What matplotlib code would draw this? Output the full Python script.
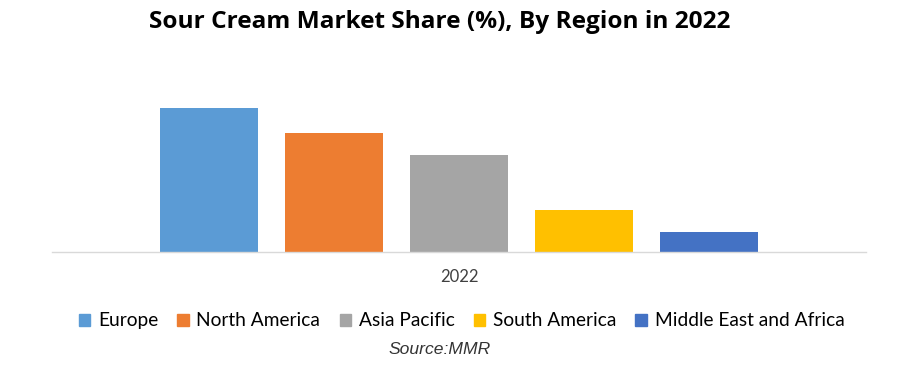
import matplotlib.pyplot as plt
from matplotlib.patches import Patch

# Datos estimados a partir de la imagen
regions = ['Europe', 'North America', 'Asia Pacific', 'South America', 'Middle East and Africa']
shares = [35.5, 29.3, 23.9, 10.4, 4.9]
colors = ['#5B9BD5', '#ED7D31', '#A5A5A5', '#FFC000', '#4472C4']
year_label = '2022'

fig = plt.figure(figsize=(9.05, 3.71), dpi=100)
ax = fig.add_axes([0.0575, 0.3208, 0.8994, 0.41])

x = list(range(len(regions)))
ax.bar(x, shares, width=0.784, color=colors)

ax.set_xlim(-1.256, 5.256)
ax.set_ylim(0, 37.5)
for side in ['top', 'right', 'left']:
    ax.spines[side].set_visible(False)
ax.spines['bottom'].set_color('#D9D9D9')
ax.spines['bottom'].set_linewidth(1)
ax.set_yticks([])
ax.set_xticks([2])
ax.set_xticklabels([year_label], fontsize=12, family='Lato', color='#404040')
ax.tick_params(axis='x', length=0, pad=12)

fig.text(0.486, 0.94, 'Sour Cream Market Share (%), By Region in 2022',
         ha='center', va='center', fontsize=17.6, fontweight='bold', family='Open Sans')

# Leyenda
handles = [Patch(color=c, label=r) for r, c in zip(regions, colors)]
fig.legend(handles=handles, loc='center', bbox_to_anchor=(0.51, 0.135), ncol=5,
           frameon=False, prop={'family': 'Lato', 'size': 13.8},
           handlelength=0.6, handleheight=0.6, handletextpad=0.4, columnspacing=1.0,
           labelcolor='black')

fig.text(0.486, 0.057, 'Source:MMR', ha='center', va='center', fontsize=12.6,
         style='italic', family='Liberation Sans', color='#333333')

fig.savefig('out.png', dpi=100)
